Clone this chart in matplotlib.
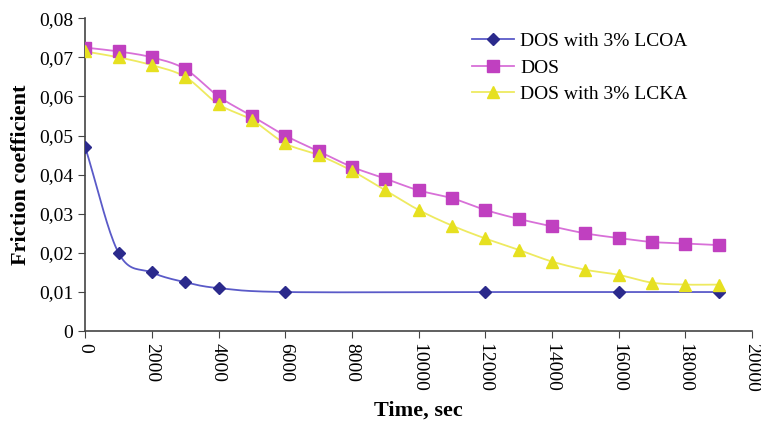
import numpy as np
import matplotlib
matplotlib.use("Agg")
import matplotlib.pyplot as plt

# data
t_lcoa = [0, 1000, 2000, 3000, 4000, 6000, 12000, 16000, 19000]
f_lcoa = [0.047, 0.020, 0.015, 0.0125, 0.011, 0.010, 0.010, 0.010, 0.010]

t_dos = list(range(0, 20000, 1000))
f_dos = [0.0725, 0.0715, 0.070, 0.067, 0.060, 0.055, 0.050, 0.046, 0.042, 0.039,
         0.036, 0.034, 0.031, 0.0287, 0.0268, 0.025, 0.0238, 0.0228, 0.0224, 0.022]

t_lcka = list(range(0, 20000, 1000))
f_lcka = [0.0715, 0.070, 0.068, 0.065, 0.058, 0.054, 0.048, 0.045, 0.041, 0.036,
          0.031, 0.027, 0.0237, 0.0208, 0.0178, 0.0157, 0.0144, 0.0124, 0.0119, 0.0119]

y_ticks = [0, 0.01, 0.02, 0.03, 0.04, 0.05, 0.06, 0.07, 0.08]
y_ticklabels = ["0", "0,01", "0,02", "0,03", "0,04", "0,05", "0,06", "0,07", "0,08"]
x_ticks = list(range(0, 20001, 2000))


def smooth(x, y, n=20):
    # Catmull-Rom style curve through the points, like Excel's smoothed line
    x = np.asarray(x, float)
    y = np.asarray(y, float)
    px = np.concatenate([[2 * x[0] - x[1]], x, [2 * x[-1] - x[-2]]])
    py = np.concatenate([[2 * y[0] - y[1]], y, [2 * y[-1] - y[-2]]])
    xs, ys = [], []
    for i in range(1, len(px) - 2):
        s = np.linspace(0, 1, n, endpoint=False)
        for p, out in ((px, xs), (py, ys)):
            p0, p1, p2, p3 = p[i - 1], p[i], p[i + 1], p[i + 2]
            out.append(0.5 * (2 * p1 + (-p0 + p2) * s + (2 * p0 - 5 * p1 + 4 * p2 - p3) * s ** 2
                              + (-p0 + 3 * p1 - 3 * p2 + p3) * s ** 3))
    xs.append([x[-1]])
    ys.append([y[-1]])
    return np.concatenate(xs), np.concatenate(ys)


plt.rcParams['font.family'] = ['Liberation Serif', 'DejaVu Serif']

fig = plt.figure(figsize=(7.61, 4.24), dpi=100)
ax = fig.add_axes([0.112, 0.219, 0.876, 0.738])

series = [
    (t_lcoa, f_lcoa, "DOS with 3% LCOA", "#2b2a8c", "#5a5ac8", "D", 6),
    (t_dos, f_dos, "DOS", "#c040c0", "#d870d8", "s", 8),
    (t_lcka, f_lcka, "DOS with 3% LCKA", "#e6e020", "#eeea60", "^", 8),
]
handles = []
for t, f, lab, mc, lc, mk, ms in series:
    sx, sy = smooth(t, f)
    ax.plot(sx, sy, color=lc, lw=1.3, zorder=2)
    ax.plot(t, f, ls="none", marker=mk, ms=ms, color=mc, zorder=3)
    h, = ax.plot([], [], color=lc, lw=1.3, marker=mk, ms=ms, mfc=mc, mec=mc, label=lab)
    handles.append(h)

ax.set_xlim(0, 20000)
ax.set_ylim(0, 0.08)
ax.set_yticks(y_ticks)
ax.set_yticklabels(y_ticklabels)
ax.set_xticks(x_ticks)
ax.set_xticklabels([str(v) for v in x_ticks], rotation=-90)
ax.tick_params(labelsize=14, direction="out", length=5, color="#444444")
ax.spines["top"].set_visible(False)
ax.spines["right"].set_visible(False)
for s in ("left", "bottom"):
    ax.spines[s].set_color("#444444")
    ax.spines[s].set_linewidth(1.2)

ax.set_ylabel("Friction coefficient", fontsize=16, fontweight="bold", labelpad=6)
ax.set_xlabel("Time, sec", fontsize=16, fontweight="bold", labelpad=6)

ax.legend(handles=handles, loc="upper right", bbox_to_anchor=(0.93, 1.01), frameon=False,
          fontsize=14, handlelength=2.2, handletextpad=0.3, labelspacing=0.45)

fig.savefig("out.png", dpi=100)
